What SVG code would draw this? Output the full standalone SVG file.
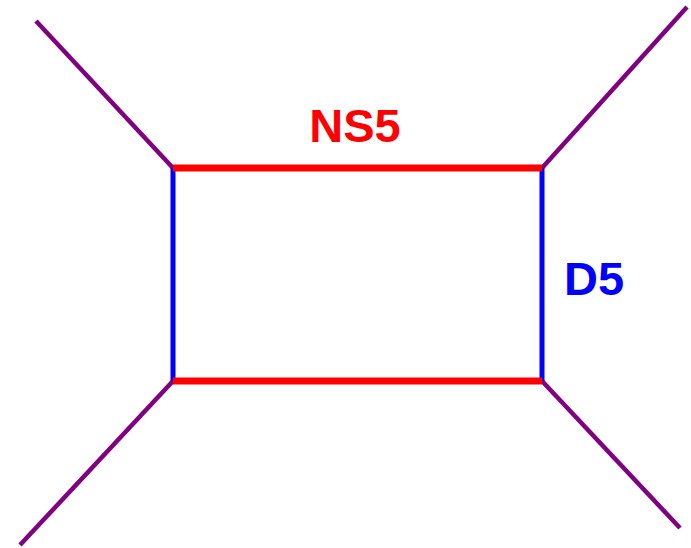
<svg xmlns="http://www.w3.org/2000/svg" width="691" height="548" viewBox="0 0 691 548">
<style>
.leg{stroke:#800080;stroke-width:4.5;fill:none}
.ns{stroke:#ff0000;stroke-width:7;fill:none}
.d{stroke:#0000ff;stroke-width:5;fill:none}
text{font-family:"Liberation Sans",Arial,sans-serif;font-weight:bold;font-size:47px}
</style>
<g id="connectors">
<line class="leg" x1="36" y1="21" x2="173" y2="168"/>
<line class="leg" x1="687" y1="7" x2="542" y2="168"/>
<line class="leg" x1="20" y1="545" x2="173" y2="381"/>
<line class="leg" x1="680" y1="528" x2="542" y2="381"/>
<line class="d" x1="173" y1="168" x2="173" y2="381"/>
<line class="d" x1="542" y1="168" x2="542" y2="381"/>
<line class="ns" x1="173" y1="168" x2="542" y2="168"/>
<line class="ns" x1="173" y1="381" x2="542" y2="381"/>
</g>
<g id="label-ns5"><text x="355" y="142" text-anchor="middle" fill="#ff0000">NS5</text></g>
<g id="label-d5"><text x="564" y="295" fill="#0000ff">D5</text></g>
</svg>
